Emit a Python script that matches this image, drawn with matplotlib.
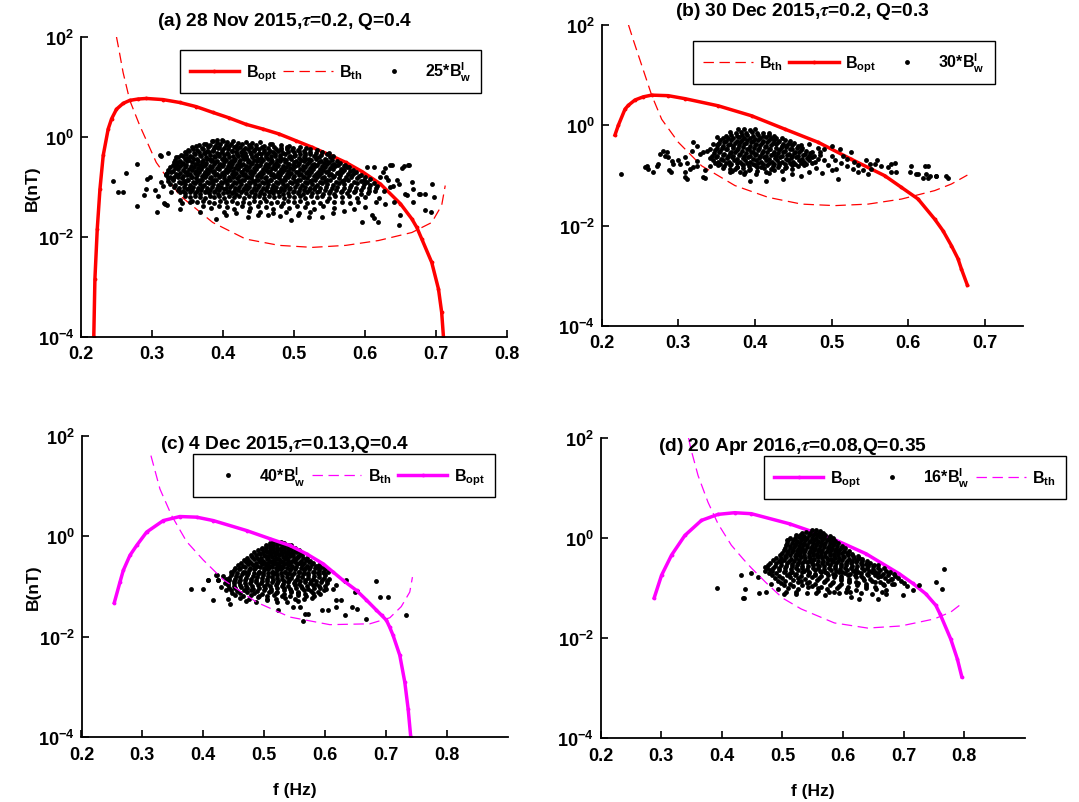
import matplotlib
matplotlib.use("Agg")
import matplotlib.pyplot as plt
from matplotlib.ticker import NullLocator

plt.rcParams['font.family'] = ['Liberation Sans', 'DejaVu Sans']
plt.rcParams['font.weight'] = 'bold'
plt.rcParams['mathtext.fontset'] = 'stix'
plt.rcParams['lines.scale_dashes'] = False

# ---------------- (a) 28 Nov 2015 ----------------
f_opt_a = [0.218, 0.2196, 0.2229, 0.2267, 0.2313, 0.2383, 0.243, 0.25, 0.2593, 0.2687, 0.2804, 0.292,
           0.3154, 0.339, 0.3622, 0.3856, 0.409, 0.432, 0.4557, 0.479, 0.5025, 0.526, 0.5492, 0.573,
           0.596, 0.6217, 0.65, 0.666, 0.673, 0.680, 0.694, 0.7035, 0.708, 0.7105]
b_opt_a = [1e-4, 1.45e-3, 0.0145, 0.091, 0.43, 1.45, 2.3, 3.6, 4.7, 5.4, 5.75, 5.9,
           5.6, 4.9, 4.05, 3.1, 2.4, 1.8, 1.45, 1.15, 0.845, 0.62, 0.444, 0.31,
           0.203, 0.115, 0.046, 0.023, 0.0155, 0.0091, 0.0031, 0.00091, 0.00031, 1e-4]
f_th_a = [0.25, 0.2533, 0.2593, 0.2687, 0.2827, 0.306, 0.339, 0.3856, 0.432, 0.479, 0.526,
          0.573, 0.619, 0.666, 0.694, 0.708, 0.713]
b_th_a = [100, 57, 19.5, 5.4, 1.7, 0.31, 0.068, 0.0195, 0.0091, 0.0068, 0.0062,
          0.0068, 0.0085, 0.0123, 0.0195, 0.043, 0.107]
# wave amplitude samples (f [Hz], 25*B_w [nT])
wave_a = [
    (.376,.74),(.385,.82),(.392,.77),(.398,.86),(.405,.79),(.414,.84),(.421,.76),(.433,.81),(.441,.75),(.452,.78),(.466,.73),
    (.366,.68),(.373,.72),(.381,.70),(.389,.66),(.396,.74),(.404,.69),(.411,.71),(.418,.67),(.427,.73),(.436,.68),(.447,.70),(.458,.66),(.469,.71),(.481,.69),(.493,.67),
    (.356,.62),(.362,.65),(.371,.60),(.379,.64),(.387,.61),(.394,.63),(.401,.60),(.409,.65),(.416,.62),(.424,.64),(.431,.60),(.439,.63),(.446,.61),(.455,.64),(.463,.60),(.472,.63),(.481,.61),(.49,.64),(.499,.60),(.508,.62),(.517,.6),
    (.351,.55),(.358,.58),(.364,.54),(.372,.57),(.378,.53),(.386,.56),(.393,.59),(.399,.54),(.407,.57),(.413,.53),(.42,.58),(.428,.55),(.435,.57),(.443,.54),(.451,.58),(.458,.55),(.466,.53),(.474,.57),(.482,.55),(.49,.58),(.497,.54),(.505,.56),(.514,.53),(.523,.57),(.532,.55),
    (.346,.49),(.352,.52),(.359,.48),(.366,.51),(.373,.47),(.38,.5),(.386,.53),(.392,.48),(.399,.51),(.405,.47),(.412,.52),(.418,.49),(.425,.51),(.431,.47),(.438,.5),(.444,.52),(.451,.48),(.458,.51),(.464,.47),(.471,.5),(.478,.52),(.485,.48),(.492,.51),(.5,.49),(.507,.52),(.515,.47),(.523,.5),(.531,.48),(.54,.51),(.549,.47),
    (.341,.44),(.348,.46),(.354,.42),(.361,.45),(.368,.43),(.374,.47),(.381,.44),(.388,.42),(.394,.46),(.401,.43),(.407,.45),(.414,.42),(.42,.46),(.427,.44),(.433,.42),(.44,.45),(.447,.43),(.453,.46),(.46,.44),(.467,.42),(.473,.45),(.48,.43),(.487,.46),(.494,.42),(.501,.44),(.508,.46),(.515,.43),(.522,.45),(.53,.42),(.538,.44),(.546,.46),(.555,.41),
    (.336,.39),(.343,.41),(.35,.38),(.356,.4),(.363,.37),(.369,.41),(.376,.39),(.382,.37),(.389,.4),(.395,.42),(.402,.38),(.408,.4),(.415,.37),(.421,.41),(.428,.39),(.434,.37),(.441,.4),(.447,.42),(.454,.38),(.46,.4),(.467,.37),(.473,.41),(.48,.39),(.486,.37),(.493,.4),(.5,.42),(.507,.38),(.514,.4),(.521,.37),(.528,.41),(.535,.39),(.543,.37),(.551,.4),
    (.333,.35),(.339,.33),(.346,.36),(.352,.34),(.359,.37),(.365,.33),(.372,.35),(.378,.36),(.385,.34),(.391,.33),(.398,.36),(.404,.35),(.411,.33),(.417,.37),(.424,.34),(.43,.36),(.437,.33),(.443,.35),(.45,.37),(.456,.34),(.463,.36),(.469,.33),(.476,.35),(.482,.37),(.489,.34),(.496,.36),(.503,.33),(.51,.35),(.517,.37),(.524,.34),(.531,.36),(.538,.33),(.545,.35),(.553,.34),(.561,.33),
    (.331,.31),(.337,.32),(.344,.3),(.35,.33),(.357,.31),(.363,.29),(.37,.32),(.376,.3),(.383,.33),(.389,.31),(.396,.29),(.402,.32),(.409,.3),(.415,.33),(.422,.31),(.428,.29),(.435,.32),(.441,.3),(.448,.33),(.454,.31),(.461,.29),(.467,.32),(.474,.3),(.48,.33),(.487,.31),(.493,.29),(.5,.32),(.507,.3),(.514,.33),(.521,.31),(.528,.29),(.535,.32),(.542,.3),(.549,.31),(.557,.29),(.565,.3),(.572,.28),
    (.329,.28),(.335,.27),(.342,.29),(.348,.28),(.355,.26),(.361,.29),(.368,.27),(.374,.28),(.381,.26),(.387,.29),(.394,.27),(.4,.28),(.407,.26),(.413,.29),(.42,.27),(.426,.28),(.433,.26),(.439,.29),(.446,.27),(.452,.28),(.459,.26),(.465,.29),(.472,.27),(.478,.28),(.485,.26),(.491,.29),(.498,.27),(.505,.28),(.512,.26),(.519,.29),(.526,.27),(.533,.28),(.54,.26),(.547,.29),(.554,.27),(.562,.28),(.57,.26),(.578,.25),
    (.326,.25),(.333,.24),(.339,.26),(.346,.25),(.352,.23),(.359,.25),(.365,.24),(.372,.26),(.378,.23),(.385,.25),(.391,.24),(.398,.26),(.404,.23),(.411,.25),(.417,.24),(.424,.26),(.43,.23),(.437,.25),(.443,.24),(.45,.26),(.456,.23),(.463,.25),(.469,.24),(.476,.26),(.482,.23),(.489,.25),(.495,.24),(.502,.26),(.509,.23),(.516,.25),(.523,.24),(.53,.26),(.537,.23),(.544,.25),(.551,.24),(.558,.26),(.566,.23),(.574,.25),(.583,.22),
    (.323,.22),(.329,.21),(.336,.23),(.343,.22),(.349,.2),(.356,.22),(.362,.21),(.369,.23),(.375,.2),(.382,.22),(.388,.21),(.395,.23),(.401,.2),(.408,.22),(.414,.21),(.421,.23),(.427,.2),(.434,.22),(.44,.21),(.447,.23),(.453,.2),(.46,.22),(.466,.21),(.473,.23),(.479,.2),(.486,.22),(.492,.21),(.499,.23),(.506,.2),(.513,.22),(.52,.21),(.527,.23),(.534,.2),(.541,.22),(.548,.21),(.555,.23),(.563,.2),(.571,.22),(.579,.21),(.588,.2),
    (.321,.19),(.327,.2),(.334,.18),(.34,.19),(.347,.2),(.353,.18),(.36,.19),(.366,.2),(.373,.18),(.379,.19),(.386,.2),(.392,.18),(.399,.19),(.405,.2),(.412,.18),(.418,.19),(.425,.2),(.431,.18),(.438,.19),(.444,.2),(.451,.18),(.457,.19),(.464,.2),(.47,.18),(.477,.19),(.483,.2),(.49,.18),(.496,.19),(.503,.2),(.51,.18),(.517,.19),(.524,.2),(.531,.18),(.538,.19),(.545,.2),(.552,.18),(.56,.19),(.568,.2),(.576,.18),(.585,.19),(.594,.17),
    (.32,.17),(.331,.16),(.337,.17),(.344,.165),(.35,.175),(.357,.16),(.363,.17),(.37,.165),(.376,.175),(.383,.16),(.389,.17),(.396,.165),(.402,.175),(.409,.16),(.415,.17),(.422,.165),(.428,.175),(.435,.16),(.441,.17),(.448,.165),(.454,.175),(.461,.16),(.467,.17),(.474,.165),(.48,.175),(.487,.16),(.493,.17),(.5,.165),(.507,.175),(.514,.16),(.521,.17),(.528,.165),(.535,.175),(.542,.16),(.549,.17),(.557,.165),(.565,.175),(.573,.16),(.582,.17),(.591,.165),(.6,.16),
    (.323,.15),(.329,.145),(.336,.155),(.342,.15),(.349,.14),(.355,.155),(.362,.15),(.368,.14),(.375,.155),(.381,.15),(.388,.14),(.394,.155),(.401,.15),(.407,.14),(.414,.155),(.42,.15),(.427,.14),(.433,.155),(.44,.15),(.446,.14),(.453,.155),(.459,.15),(.466,.14),(.472,.155),(.479,.15),(.485,.14),(.492,.155),(.498,.15),(.505,.14),(.512,.155),(.519,.15),(.526,.14),(.533,.155),(.54,.15),(.547,.14),(.555,.155),(.563,.15),(.571,.14),(.58,.155),(.589,.15),(.598,.14),(.607,.145),
    (.322,.13),(.33,.135),(.338,.125),(.345,.13),(.351,.135),(.358,.125),(.364,.13),(.371,.135),(.377,.125),(.384,.13),(.39,.135),(.397,.125),(.403,.13),(.41,.135),(.416,.125),(.423,.13),(.429,.135),(.436,.125),(.442,.13),(.449,.135),(.455,.125),(.462,.13),(.468,.135),(.475,.125),(.481,.13),(.488,.135),(.494,.125),(.501,.13),(.508,.135),(.515,.125),(.522,.13),(.529,.135),(.536,.125),(.543,.13),(.551,.135),(.559,.125),(.567,.13),(.576,.135),(.585,.125),(.594,.13),(.603,.125),(.612,.12),
    (.326,.115),(.333,.11),(.341,.12),(.347,.115),(.354,.11),(.36,.12),(.367,.115),(.373,.11),(.38,.12),(.386,.115),(.393,.11),(.399,.12),(.406,.115),(.412,.11),(.419,.12),(.425,.115),(.432,.11),(.438,.12),(.445,.115),(.451,.11),(.458,.12),(.464,.115),(.471,.11),(.477,.12),(.484,.115),(.49,.11),(.497,.12),(.504,.115),(.511,.11),(.518,.12),(.525,.115),(.532,.11),(.539,.12),(.547,.115),(.555,.11),(.563,.12),(.571,.115),(.58,.11),(.589,.12),(.598,.115),(.607,.11),(.617,.105),
    (.331,.1),(.338,.095),(.345,.1),(.352,.097),(.358,.102),(.365,.095),(.371,.1),(.378,.097),(.384,.102),(.391,.095),(.397,.1),(.404,.097),(.41,.102),(.417,.095),(.423,.1),(.43,.097),(.436,.102),(.443,.095),(.449,.1),(.456,.097),(.462,.102),(.469,.095),(.475,.1),(.482,.097),(.488,.102),(.495,.095),(.502,.1),(.509,.097),(.516,.102),(.523,.095),(.53,.1),(.537,.097),(.545,.102),(.553,.095),(.561,.1),(.57,.097),(.579,.102),(.588,.095),(.597,.1),(.606,.097),(.616,.094),
    (.336,.088),(.343,.085),(.35,.09),(.356,.086),(.363,.083),(.369,.089),(.376,.085),(.382,.088),(.389,.083),(.395,.087),(.402,.09),(.408,.085),(.415,.083),(.421,.088),(.428,.086),(.434,.09),(.441,.084),(.447,.087),(.454,.083),(.46,.089),(.467,.085),(.473,.088),(.48,.083),(.486,.087),(.493,.09),(.5,.085),(.507,.083),(.514,.088),(.521,.086),(.528,.09),(.535,.084),(.543,.087),(.551,.083),(.559,.089),(.568,.085),(.577,.088),(.586,.083),(.595,.087),(.605,.085),(.614,.082),
    (.34,.078),(.347,.075),(.354,.079),(.361,.076),(.367,.073),(.374,.078),(.38,.075),(.387,.079),(.393,.074),(.4,.077),(.406,.08),(.413,.075),(.419,.073),(.426,.078),(.432,.076),(.439,.08),(.445,.074),(.452,.077),(.458,.073),(.465,.079),(.471,.075),(.478,.078),(.484,.073),(.491,.077),(.498,.08),(.505,.075),(.512,.073),(.519,.078),(.526,.076),(.533,.08),(.541,.074),(.549,.077),(.557,.073),(.566,.079),(.575,.075),(.584,.078),(.594,.074),(.604,.076),
    (.346,.065),(.353,.062),(.36,.067),(.367,.063),(.374,.06),(.381,.066),(.388,.062),(.395,.065),(.402,.06),(.409,.067),(.416,.063),(.423,.065),(.43,.06),(.437,.066),(.444,.062),(.451,.065),(.458,.06),(.465,.067),(.472,.063),(.479,.065),(.486,.06),(.493,.066),(.5,.062),(.508,.065),(.516,.06),(.524,.067),(.532,.063),(.54,.065),(.549,.06),(.558,.066),(.568,.062),(.578,.065),(.589,.061),(.6,.064),
    (.356,.052),(.364,.049),(.372,.053),(.38,.05),(.388,.047),(.396,.052),(.404,.049),(.412,.053),(.42,.048),(.428,.051),(.436,.047),(.444,.052),(.452,.049),(.46,.053),(.468,.048),(.476,.051),(.484,.047),(.492,.052),(.5,.049),(.509,.053),(.518,.048),(.527,.051),(.536,.047),(.546,.052),(.556,.049),(.567,.051),(.579,.048),(.59,.05),
    (.372,.041),(.383,.038),(.394,.042),(.405,.039),(.416,.037),(.427,.041),(.438,.038),(.449,.042),(.46,.039),(.471,.037),(.482,.041),(.493,.038),(.504,.042),(.516,.039),(.528,.037),(.541,.041),(.556,.038),
    (.402,.032),(.418,.03),(.436,.033),(.452,.031),(.471,.03),(.489,.032),(.507,.03),(.522,.031),
    (.2445,.13),(.2524,.081),(.2585,.079),(.2627,.19),(.279,.29),(.2795,.041),(.2888,.068),(.292,.091),(.2935,.145),(.2977,.162),
    (.307,.032),(.3038,.089),(.3085,.066),(.3122,.41),(.3225,.48),(.317,.048),(.319,.046),(.321,.044),(.3131,.124),(.3155,.107),
    (.3202,.18),(.3248,.155),(.3272,.078),(.3318,.27),(.3332,.39),(.3389,.054),(.3426,.048),(.311,.43),
    (.39,.023),(.404,.027),(.435,.025),(.463,.027),(.4955,.022),(.521,.025),(.54,.025),(.339,.036),(.353,.049),(.367,.032),
    (.45,.028),(.48,.026),(.505,.028),(.555,.03),(.57,.033),(.585,.036),(.6,.04),(.386,.85),(.392,.87),(.4,.83),
    (.638,.27),(.6544,.26),(.661,.27),(.666,.124),(.6475,.115),(.657,.072),(.6755,.072),(.685,.072),(.694,.115),(.685,.034),
    (.6935,.032),(.6475,.017),(.619,.0195),(.596,.0195),(.61,.027),(.6404,.049),(.668,.049),(.6287,.245),(.6357,.27),(.652,.245),
    (.6614,.27),(.612,.25),(.603,.25),(.668,.093),(.678,.072),(.6965,.063),(.65,.028),(.612,.0245),(.659,.069),(.64,.107),
    (.633,.135),(.6357,.1),(.6264,.085),(.6217,.155),(.625,.2),(.63,.16),(.62,.06),(.628,.045),(.615,.05),(.645,.14),
]

# ---------------- (b) 30 Dec 2015 ----------------
f_opt_b = [0.2173, 0.2217, 0.2304, 0.2347, 0.2434, 0.2543, 0.2652, 0.2869, 0.3087, 0.3521, 0.3956,
           0.4391, 0.4825, 0.5261, 0.5695, 0.5913, 0.613, 0.6347, 0.6456, 0.6565, 0.6651, 0.6695, 0.6774]
b_opt_b = [0.64, 1.0, 2.1, 2.5, 3.2, 3.7, 4.0, 3.9, 3.4, 2.45, 1.55,
           0.84, 0.46, 0.21, 0.099, 0.058, 0.034, 0.0135, 0.0079, 0.004, 0.0022, 0.00138, 0.00065]
f_th_b = [0.235, 0.2413, 0.2522, 0.2652, 0.2783, 0.3, 0.3304, 0.3739, 0.4173, 0.4609,
          0.5043, 0.5478, 0.5913, 0.6347, 0.6565, 0.6774]
b_th_b = [100, 50, 15.8, 4.0, 1.32, 0.46, 0.156, 0.063, 0.0367, 0.0269,
          0.0251, 0.0269, 0.0339, 0.050, 0.0676, 0.102]
wave_b = [
    (.378,.83),(.386,.85),(.393,.81),(.4,.84),
    (.368,.72),(.375,.69),(.382,.73),(.389,.7),(.396,.72),(.403,.69),(.41,.71),(.418,.7),
    (.362,.62),(.369,.64),(.376,.61),(.383,.63),(.39,.65),(.397,.62),(.404,.64),(.411,.61),(.418,.63),(.425,.62),
    (.358,.57),(.365,.55),(.372,.56),(.379,.58),(.386,.55),(.393,.57),(.4,.54),(.407,.56),(.414,.58),(.421,.55),(.428,.57),(.436,.55),
    (.355,.5),(.362,.49),(.369,.51),(.376,.48),(.383,.5),(.39,.52),(.397,.49),(.404,.51),(.411,.48),(.418,.5),(.425,.52),(.432,.49),(.439,.5),(.446,.48),
    (.353,.44),(.36,.46),(.367,.43),(.374,.45),(.381,.47),(.388,.44),(.395,.46),(.402,.43),(.409,.45),(.416,.47),(.423,.44),(.43,.46),(.437,.43),(.444,.45),(.451,.44),
    (.351,.4),(.358,.38),(.365,.41),(.372,.39),(.379,.4),(.386,.42),(.393,.38),(.4,.4),(.407,.41),(.414,.39),(.421,.4),(.428,.42),(.435,.38),(.442,.4),(.449,.41),(.456,.39),
    (.35,.35),(.357,.36),(.364,.34),(.371,.36),(.378,.35),(.385,.37),(.392,.34),(.399,.36),(.406,.35),(.413,.37),(.42,.34),(.427,.36),(.434,.35),(.441,.37),(.448,.34),(.455,.36),(.462,.35),
    (.348,.32),(.355,.31),(.362,.33),(.369,.3),(.376,.32),(.383,.31),(.39,.33),(.397,.3),(.404,.32),(.411,.31),(.418,.33),(.425,.3),(.432,.32),(.439,.31),(.446,.33),(.453,.3),(.46,.32),(.467,.31),
    (.346,.28),(.353,.29),(.36,.27),(.367,.28),(.374,.29),(.381,.27),(.388,.28),(.395,.29),(.402,.27),(.409,.28),(.416,.29),(.423,.27),(.43,.28),(.437,.29),(.444,.27),(.451,.28),(.458,.29),(.465,.27),(.472,.28),
    (.344,.25),(.351,.24),(.358,.26),(.365,.25),(.372,.24),(.379,.26),(.386,.25),(.393,.24),(.4,.26),(.407,.25),(.414,.24),(.421,.26),(.428,.25),(.435,.24),(.442,.26),(.449,.25),(.456,.24),(.463,.26),(.47,.25),(.477,.24),
    (.342,.22),(.349,.23),(.356,.21),(.363,.22),(.37,.23),(.377,.21),(.384,.22),(.391,.23),(.398,.21),(.405,.22),(.412,.23),(.419,.21),(.426,.22),(.433,.23),(.44,.21),(.447,.22),(.454,.23),(.461,.21),(.468,.22),(.475,.23),(.482,.21),
    (.345,.2),(.352,.19),(.359,.2),(.366,.19),(.373,.2),(.38,.19),(.387,.2),(.394,.19),(.401,.2),(.408,.19),(.415,.2),(.422,.19),(.429,.2),(.436,.19),(.443,.2),(.45,.19),(.457,.2),(.464,.19),(.471,.2),(.478,.19),
    (.348,.18),(.355,.17),(.362,.18),(.369,.17),(.376,.18),(.383,.17),(.39,.18),(.397,.17),(.404,.18),(.411,.17),(.418,.18),(.425,.17),(.432,.18),(.439,.17),(.446,.18),(.453,.17),(.46,.18),(.467,.17),(.474,.18),
    (.352,.16),(.36,.155),(.368,.16),(.376,.15),(.384,.16),(.392,.155),(.4,.16),(.408,.15),(.416,.16),(.424,.155),(.432,.16),(.44,.15),(.448,.16),(.456,.155),(.464,.16),
    (.358,.14),(.367,.135),(.376,.145),(.385,.14),(.394,.135),(.403,.145),(.412,.14),(.421,.135),(.43,.145),(.439,.14),(.448,.135),
    (.37,.125),(.381,.12),(.392,.13),(.403,.125),(.414,.12),(.425,.13),(.436,.125),
    (.386,.108),(.402,.105),(.418,.11),
    (.2252,.107),(.2565,.145),(.2608,.135),(.2665,.12),(.2738,.17),(.276,.27),(.2804,.31),(.2825,.245),(.2847,.29),(.2869,.23),
    (.2912,.195),(.2934,.17),(.2882,.126),(.2904,.115),(.2999,.2),(.302,.17),(.3086,.23),(.3108,.18),(.3086,.115),(.3108,.087),
    (.3173,.31),(.3195,.46),(.3247,.39),(.3152,.135),(.3195,.145),(.3239,.155),(.3247,.195),(.3282,.27),(.3326,.29),(.3369,.31),
    (.3412,.34),(.3347,.126),(.3347,.091),(.3412,.155),(.3456,.43),(.35,.58),(.3521,.43),(.3673,.115),(.3738,.135),(.3869,.12),
    (.3934,.079),(.4151,.079),(.4369,.085),(.4478,.107),(.2717,.156),(.2587,.153),(.3087,.092),(.3325,.092),
    (.4826,.36),(.4848,.29),(.5,.245),(.5109,.34),(.5261,.29),(.513,.18),(.5196,.155),(.5065,.135),(.5087,.085),(.5283,.135),
    (.5348,.115),(.5413,.126),(.5478,.107),(.5522,.135),(.5565,.17),(.5652,.155),(.5739,.145),(.5783,.17),(.5826,.18),(.5848,.115),
    (.5783,.115),(.6043,.155),(.6022,.115),(.6109,.107),(.6217,.155),(.6261,.155),(.623,.107),(.6261,.091),(.6196,.091),(.637,.1),
    (.6522,.091),(.6499,.1),(.6369,.1),(.6282,.1),(.613,.107),
    (.475,.3),(.49,.2),(.495,.16),(.48,.14),(.5,.13),(.47,.12),(.46,.1),(.488,.11),(.505,.2),(.515,.25),
    (.52,.21),(.53,.19),(.535,.16),(.545,.2),(.55,.17),(.56,.2),(.485,.26),(.49,.33),(.46,.4),(.47,.43),(.5,.38),
]

# ---------------- (c) 4 Dec 2015 ----------------
f_opt_c = [0.2539, 0.2632, 0.2686, 0.2796, 0.2906, 0.307, 0.3344, 0.3617, 0.3891, 0.4164, 0.4712, 0.5096,
           0.5424, 0.5698, 0.5971, 0.6135, 0.63, 0.6519, 0.6683, 0.6847, 0.693, 0.7011, 0.7065, 0.712,
           0.723, 0.7312, 0.7367, 0.741]
b_opt_c = [0.048, 0.123, 0.21, 0.42, 0.66, 1.22, 2.07, 2.49, 2.42, 2.07, 1.31, 0.9,
           0.66, 0.45, 0.285, 0.195, 0.133, 0.084, 0.054, 0.034, 0.027, 0.0214, 0.0155, 0.0107,
           0.0043, 0.00126, 0.00037, 0.000102]
f_th_c = [0.3141, 0.3289, 0.3481, 0.3727, 0.4, 0.4329, 0.4877, 0.5424, 0.608, 0.6738, 0.7066,
          0.7254, 0.7394, 0.7438]
b_th_c = [40.7, 8.8, 2.6, 0.79, 0.34, 0.138, 0.049, 0.0248, 0.0175, 0.0182, 0.024,
          0.04, 0.078, 0.155]
wave_c = [
    (.509,.75),(.515,.78),(.521,.74),(.527,.77),(.533,.75),
    (.503,.67),(.509,.69),(.515,.66),(.521,.68),(.527,.7),(.533,.67),(.539,.69),(.545,.66),
    (.497,.6),(.503,.61),(.509,.59),(.515,.62),(.521,.6),(.527,.58),(.533,.61),(.539,.59),(.545,.62),(.551,.6),
    (.49,.53),(.497,.55),(.503,.54),(.509,.52),(.515,.55),(.521,.53),(.527,.54),(.533,.56),(.539,.53),(.545,.55),(.551,.52),(.557,.54),
    (.484,.48),(.491,.47),(.498,.49),(.504,.48),(.51,.46),(.516,.49),(.522,.47),(.528,.48),(.534,.5),(.54,.47),(.546,.49),(.552,.48),(.559,.46),
    (.478,.43),(.486,.42),(.493,.44),(.5,.43),(.506,.41),(.512,.44),(.518,.42),(.524,.43),(.53,.45),(.536,.42),(.542,.44),(.548,.43),(.555,.41),(.563,.43),
    (.472,.38),(.48,.39),(.488,.37),(.495,.38),(.501,.4),(.507,.37),(.513,.39),(.519,.38),(.525,.36),(.531,.39),(.537,.38),(.543,.4),(.549,.37),(.556,.39),(.564,.38),(.571,.37),
    (.467,.34),(.475,.33),(.483,.35),(.491,.34),(.498,.32),(.504,.35),(.51,.33),(.516,.34),(.522,.36),(.528,.33),(.534,.35),(.54,.34),(.546,.32),(.553,.35),(.561,.33),(.569,.34),(.576,.33),
    (.462,.3),(.47,.31),(.478,.29),(.486,.3),(.494,.31),(.501,.29),(.507,.3),(.513,.31),(.519,.29),(.525,.3),(.531,.31),(.537,.29),(.543,.3),(.55,.31),(.558,.29),(.566,.3),(.574,.31),(.581,.29),
    (.457,.27),(.465,.26),(.473,.28),(.481,.27),(.489,.26),(.496,.28),(.503,.27),(.509,.26),(.515,.28),(.521,.27),(.527,.26),(.533,.28),(.539,.27),(.546,.26),(.554,.28),(.562,.27),(.57,.26),(.578,.28),(.586,.26),
    (.453,.24),(.461,.23),(.469,.25),(.477,.24),(.485,.23),(.493,.25),(.5,.24),(.507,.23),(.513,.25),(.519,.24),(.525,.23),(.531,.25),(.537,.24),(.544,.23),(.552,.25),(.56,.24),(.568,.23),(.576,.25),(.584,.24),(.591,.23),
    (.45,.21),(.459,.22),(.468,.2),(.476,.21),(.484,.22),(.492,.2),(.5,.21),(.507,.22),(.514,.2),(.521,.21),(.528,.22),(.535,.2),(.542,.21),(.55,.22),(.558,.2),(.566,.21),(.574,.22),(.582,.2),(.59,.21),(.597,.2),
    (.447,.19),(.456,.185),(.465,.195),(.474,.19),(.483,.185),(.491,.195),(.499,.19),(.506,.185),(.513,.195),(.52,.19),(.527,.185),(.534,.195),(.541,.19),(.549,.185),(.557,.195),(.565,.19),(.573,.185),(.581,.195),(.589,.19),(.598,.185),
    (.445,.17),(.454,.165),(.463,.175),(.472,.17),(.481,.165),(.49,.175),(.498,.17),(.506,.165),(.514,.175),(.522,.17),(.53,.165),(.538,.175),(.546,.17),(.555,.165),(.564,.175),(.573,.17),(.582,.165),(.591,.175),(.6,.17),
    (.443,.15),(.452,.145),(.461,.155),(.47,.15),(.479,.145),(.488,.155),(.497,.15),(.505,.145),(.513,.155),(.521,.15),(.529,.145),(.537,.155),(.545,.15),(.554,.145),(.563,.155),(.572,.15),(.581,.145),(.59,.155),(.599,.15),(.607,.145),
    (.442,.135),(.451,.13),(.46,.138),(.469,.133),(.478,.128),(.487,.136),(.496,.132),(.505,.128),(.514,.136),(.523,.131),(.532,.128),(.541,.135),(.55,.131),(.559,.128),(.568,.136),(.577,.132),(.586,.128),(.595,.135),(.604,.13),
    (.441,.12),(.45,.118),(.459,.123),(.468,.119),(.477,.116),(.486,.122),(.495,.118),(.504,.115),(.513,.122),(.522,.118),(.531,.115),(.54,.121),(.549,.118),(.558,.115),(.567,.122),(.576,.118),(.585,.115),(.594,.121),(.603,.117),
    (.44,.107),(.45,.104),(.46,.109),(.47,.105),(.48,.102),(.49,.108),(.5,.104),(.51,.101),(.52,.108),(.53,.104),(.54,.101),(.55,.107),(.56,.104),(.57,.101),(.58,.108),(.59,.104),(.6,.101),
    (.442,.095),(.452,.093),(.462,.097),(.472,.094),(.482,.091),(.492,.096),(.502,.093),(.512,.09),(.522,.096),(.532,.093),(.542,.09),(.552,.095),(.562,.092),(.572,.09),(.582,.096),(.592,.093),(.602,.09),
    (.445,.085),(.456,.082),(.467,.087),(.478,.084),(.489,.081),(.5,.086),(.511,.083),(.522,.08),(.533,.086),(.544,.083),(.555,.08),(.566,.085),(.577,.082),(.588,.08),(.598,.084),
    (.448,.076),(.46,.074),(.472,.078),(.484,.075),(.496,.072),(.508,.077),(.52,.074),(.532,.072),(.544,.077),(.556,.074),(.568,.072),(.58,.076),(.592,.073),
    (.452,.068),(.465,.066),(.478,.069),(.491,.066),(.504,.064),(.517,.068),(.53,.066),(.543,.064),(.556,.068),(.569,.066),(.582,.064),
    (.46,.06),(.475,.058),(.49,.061),(.505,.058),(.52,.056),(.535,.06),(.55,.058),(.565,.056),(.578,.06),
    (.47,.052),(.487,.05),(.504,.053),(.521,.05),(.538,.049),(.555,.052),
    (.3801,.091),(.4083,.133),(.4154,.054),(.422,.167),(.4247,.133),(.4411,.058),(.4439,.046),(.474,.31),(.5232,.034),(.5479,.039),
    (.5588,.039),(.5671,.029),(.5725,.028),(.5643,.021),(.5944,.034),(.6053,.034),(.619,.039),(.6327,.027),(.6437,.039),(.6519,.036),
    (.619,.054),(.6272,.054),(.6135,.091),(.619,.106),(.6327,.127),(.6491,.078),(.6683,.023),(.6847,.129),(.6902,.062),(.7039,.062),
    (.734,.027),(.4,.091),(.4214,.167),(.4077,.133),(.4241,.133),(.634,.135),(.653,.081),(.43,.1),(.435,.12),(.437,.085),
    (.432,.16),(.438,.14),(.445,.2),(.6,.22),(.595,.25),(.605,.2),(.59,.27),
]

# ---------------- (d) 20 Apr 2016 ----------------
f_opt_d = [0.2885, 0.3006, 0.3171, 0.339, 0.3664, 0.3938, 0.4212, 0.4487, 0.5117, 0.583, 0.6378,
           0.6927, 0.7146, 0.7365, 0.7529, 0.76, 0.7776, 0.7885, 0.7957]
b_opt_d = [0.063, 0.178, 0.45, 1.11, 2.22, 2.93, 3.16, 3.02, 1.9, 0.955, 0.48,
           0.191, 0.124, 0.076, 0.045, 0.030, 0.0095, 0.0038, 0.0017]
f_th_d = [0.345, 0.3489, 0.3609, 0.3773, 0.3938, 0.4158, 0.435, 0.4487, 0.4733, 0.5, 0.5309,
          0.5857, 0.6405, 0.6954, 0.7502, 0.7776, 0.7941]
b_th_d = [100, 60, 17.4, 5.1, 1.9, 0.71, 0.38, 0.25, 0.126, 0.063, 0.038,
          0.02, 0.0158, 0.0174, 0.024, 0.033, 0.047]
wave_d = [
    (.548,1.4),(.555,1.45),(.562,1.38),
    (.532,1.25),(.539,1.28),(.546,1.23),(.553,1.27),(.56,1.24),(.567,1.26),
    (.522,1.12),(.529,1.14),(.536,1.1),(.543,1.13),(.55,1.11),(.557,1.14),(.564,1.1),(.571,1.12),(.578,1.09),
    (.513,1.0),(.52,.98),(.527,1.02),(.534,.99),(.541,1.01),(.548,.97),(.555,1.0),(.562,1.02),(.569,.98),(.576,1.0),(.583,.97),
    (.51,.89),(.517,.9),(.524,.87),(.531,.89),(.538,.91),(.545,.88),(.552,.9),(.559,.87),(.566,.89),(.573,.91),(.58,.88),(.587,.86),
    (.508,.79),(.515,.78),(.522,.8),(.529,.77),(.536,.79),(.543,.81),(.55,.78),(.557,.8),(.564,.77),(.571,.79),(.578,.8),(.585,.78),(.592,.77),
    (.506,.71),(.513,.7),(.52,.72),(.527,.69),(.534,.71),(.541,.72),(.548,.7),(.555,.71),(.562,.69),(.569,.72),(.576,.7),(.583,.71),(.59,.69),(.598,.7),
    (.504,.63),(.512,.62),(.519,.64),(.526,.61),(.533,.63),(.54,.64),(.547,.62),(.554,.63),(.561,.61),(.568,.64),(.575,.62),(.582,.63),(.589,.61),(.596,.63),(.603,.62),
    (.502,.56),(.51,.55),(.517,.57),(.524,.54),(.531,.56),(.538,.57),(.545,.55),(.552,.56),(.559,.54),(.566,.57),(.573,.55),(.58,.56),(.587,.54),(.594,.56),(.601,.55),(.609,.54),
    (.5,.5),(.508,.49),(.515,.51),(.522,.48),(.529,.5),(.536,.51),(.543,.49),(.55,.5),(.557,.48),(.564,.51),(.571,.49),(.578,.5),(.585,.48),(.592,.5),(.599,.49),(.607,.5),(.615,.48),
    (.496,.45),(.504,.44),(.512,.46),(.52,.43),(.528,.45),(.536,.46),(.543,.44),(.55,.45),(.557,.43),(.564,.46),(.571,.44),(.578,.45),(.585,.43),(.592,.45),(.6,.44),(.608,.46),(.616,.43),(.624,.44),
    (.49,.4),(.498,.39),(.506,.41),(.514,.38),(.522,.4),(.53,.41),(.538,.39),(.545,.4),(.552,.38),(.559,.41),(.566,.39),(.573,.4),(.58,.38),(.587,.4),(.594,.39),(.602,.41),(.61,.38),(.618,.4),(.626,.39),(.632,.38),
    (.485,.355),(.494,.345),(.503,.36),(.511,.35),(.519,.34),(.527,.36),(.535,.35),(.543,.34),(.551,.36),(.559,.35),(.567,.34),(.575,.36),(.583,.35),(.591,.34),(.599,.36),(.607,.35),(.615,.34),(.623,.36),(.631,.35),(.639,.34),
    (.48,.32),(.489,.31),(.498,.325),(.507,.315),(.516,.305),(.525,.32),(.533,.31),(.541,.325),(.549,.315),(.557,.305),(.565,.32),(.573,.31),(.581,.325),(.589,.315),(.597,.305),(.605,.32),(.613,.31),(.621,.325),(.629,.315),(.637,.305),(.645,.31),
    (.477,.28),(.487,.27),(.497,.285),(.506,.275),(.515,.27),(.524,.285),(.533,.275),(.542,.27),(.551,.285),(.56,.275),(.569,.27),(.578,.285),(.587,.275),(.596,.27),(.605,.285),(.614,.275),(.623,.27),(.632,.285),(.641,.275),(.65,.27),(.658,.28),
    (.474,.25),(.484,.245),(.494,.255),(.504,.25),(.514,.24),(.523,.255),(.532,.25),(.541,.24),(.55,.255),(.559,.25),(.568,.24),(.577,.255),(.586,.25),(.595,.24),(.604,.255),(.613,.25),(.622,.24),(.631,.255),(.64,.25),(.649,.24),(.658,.255),(.667,.245),
    (.472,.22),(.483,.215),(.494,.225),(.505,.22),(.515,.21),(.525,.225),(.535,.22),(.544,.21),(.553,.225),(.562,.22),(.571,.21),(.58,.225),(.589,.22),(.598,.21),(.607,.225),(.616,.22),(.625,.21),(.634,.225),(.643,.22),(.652,.21),(.661,.225),(.67,.22),(.678,.21),
    (.478,.2),(.49,.195),(.502,.205),(.513,.2),(.523,.19),(.533,.205),(.543,.2),(.553,.19),(.563,.205),(.573,.2),(.583,.19),(.593,.205),(.603,.2),(.612,.19),(.621,.205),(.63,.2),(.639,.19),(.648,.205),(.657,.2),(.666,.19),(.675,.2),(.684,.19),
    (.482,.18),(.495,.175),(.508,.185),(.52,.18),(.531,.17),(.542,.185),(.553,.18),(.564,.17),(.575,.185),(.586,.18),(.597,.17),(.608,.185),(.619,.18),(.63,.17),(.641,.185),(.652,.18),(.663,.17),(.674,.18),(.685,.17),
    (.487,.16),(.5,.155),(.513,.165),(.525,.16),(.537,.15),(.549,.165),(.561,.16),(.573,.15),(.585,.165),(.597,.16),(.609,.15),(.621,.165),(.633,.16),(.645,.15),(.657,.165),(.669,.16),(.681,.15),
    (.492,.14),(.505,.135),(.518,.145),(.531,.14),(.544,.132),(.557,.145),(.57,.14),(.583,.132),(.596,.145),(.609,.14),(.622,.132),(.635,.145),(.648,.14),(.661,.132),(.674,.14),
    (.498,.126),(.512,.12),(.526,.13),(.54,.125),(.554,.118),(.568,.13),(.582,.125),(.596,.118),(.61,.13),(.624,.125),(.638,.118),(.652,.13),(.666,.122),(.68,.118),
    (.503,.112),(.518,.108),(.533,.115),(.548,.11),(.563,.105),(.578,.115),(.593,.11),(.608,.105),(.623,.115),(.638,.11),(.653,.105),(.668,.112),
    (.51,.1),(.526,.096),(.542,.102),(.558,.098),(.574,.094),(.59,.1),(.606,.096),(.622,.092),(.638,.1),(.654,.096),(.67,.092),
    (.522,.083),(.54,.08),(.558,.085),(.576,.081),(.594,.078),(.612,.084),(.63,.08),(.648,.077),(.664,.082),
    (.3922,.099),(.4322,.177),(.4377,.093),(.436,.0625),(.4487,.2),(.4596,.164),(.4613,.0785),(.4706,.26),(.4733,.082),(.4788,.223),
    (.4816,.12),(.5062,.082),(.5227,.074),(.5556,.079),(.571,.073),(.5857,.082),(.605,.082),(.6131,.065),(.6269,.061),(.657,.061),
    (.6707,.076),(.6981,.071),(.7146,.092),(.7245,.112),(.754,.134),(.7628,.094),(.7667,.233),(.5073,.885),(.6515,.28),(.6515,.206),
    (.679,.152),(.6844,.121),(.4349,.063),(.4925,.095),(.5034,.076),(.695,.14),(.7,.125),(.69,.16),(.705,.11),
]

titles = ['(a) 28 Nov 2015,$\\tau$=0.2, Q=0.4',
          '(b) 30 Dec 2015,$\\tau$=0.2, Q=0.3',
          '(c) 4 Dec 2015,$\\tau$=0.13,Q=0.4',
          '(d) 20 Apr 2016,$\\tau$=0.08,Q=0.35']
wave_labels = ['25*B$^{\\mathdefault{I}}_{\\mathdefault{w}}$',
               '30*B$^{\\mathdefault{I}}_{\\mathdefault{w}}$',
               '40*B$^{\\mathdefault{I}}_{\\mathdefault{w}}$',
               '16*B$^{\\mathdefault{I}}_{\\mathdefault{w}}$']

W, H = 1079, 803
fig = plt.figure(figsize=(W / 100, H / 100), dpi=100)


def px_rect(x0, y0, x1, y1):
    return [x0 / W, 1 - y1 / H, (x1 - x0) / W, (y1 - y0) / H]


def draw_panel(rect, xlim, xticks, curves, wave, color, wave_label, order, leg_xy, title, title_xy,
               ylabel=False, xlabel=False):
    ax = fig.add_axes(rect)
    f_opt, b_opt, f_th, b_th = curves
    fw, bw = zip(*wave)
    handles = {}
    for key in order:
        if key == 'opt':
            handles[key], = ax.plot(f_opt, b_opt, color=color, lw=2.5, marker='.', ms=3.5,
                                    label=r'B$_{\mathdefault{opt}}$')
        elif key == 'th':
            handles[key], = ax.plot(f_th, b_th, color=color, lw=0.9, dashes=(7.5, 4),
                                    label=r'B$_{\mathdefault{th}}$')
        else:
            handles[key], = ax.plot(fw, bw, ls='none', marker='o', ms=3.5, mew=0, color='k',
                                    label=wave_label)
    ax.set_yscale('log')
    ax.set_ylim(1e-4, 1e2)
    ax.set_yticks([1e-4, 1e-2, 1e0, 1e2])
    ax.yaxis.set_minor_locator(NullLocator())
    ax.set_xlim(*xlim)
    ax.set_xticks(xticks)
    ax.set_xticklabels(['%.1f' % t for t in xticks])
    for s in ('top', 'right'):
        ax.spines[s].set_visible(False)
    for s in ('left', 'bottom'):
        ax.spines[s].set_linewidth(1.3)
    ax.tick_params(direction='in', length=5, width=1.2, labelsize=13)
    ax.tick_params(axis='x', pad=6)
    ax.tick_params(axis='y', pad=5)

    leg = ax.legend([handles[k] for k in order], [handles[k].get_label() for k in order],
                    loc='upper left', bbox_to_anchor=leg_xy, ncol=3, numpoints=1,
                    fancybox=False, framealpha=1, edgecolor='k', borderaxespad=0,
                    borderpad=0.62, handlelength=3.1, handletextpad=0.4, columnspacing=0.4,
                    prop={'size': 11.5, 'weight': 'bold'})
    leg.get_frame().set_linewidth(1.0)

    fig.text(title_xy[0] / W, 1 - title_xy[1] / H, title, ha='center', va='center',
             fontsize=13.8, fontweight='bold')
    if ylabel:
        ax.set_ylabel('B(nT)', fontsize=12.5, fontweight='bold')
        ax.yaxis.set_label_coords(-0.096, 0.5)
    if xlabel:
        ax.set_xlabel('f (Hz)', fontsize=12.5, fontweight='bold')
        ax.xaxis.set_label_coords(0.5, -0.148)
    return ax


red, magenta = '#FF0000', '#FF00FF'

draw_panel(px_rect(81, 38, 507, 338), (0.2, 0.8), [0.2, 0.3, 0.4, 0.5, 0.6, 0.7, 0.8],
           (f_opt_a, b_opt_a, f_th_a, b_th_a), wave_a, red, wave_labels[0],
           ['opt', 'th', 'wave'], (0.232, 0.957), titles[0], (285, 22), ylabel=True)
draw_panel(px_rect(601.7, 26, 1023, 327), (0.2, 0.75), [0.2, 0.3, 0.4, 0.5, 0.6, 0.7],
           (f_opt_b, b_opt_b, f_th_b, b_th_b), wave_b, red, wave_labels[1],
           ['th', 'opt', 'wave'], (0.217, 0.947), titles[1], (802, 12))
draw_panel(px_rect(81.5, 437, 507.5, 738.3), (0.2, 0.9), [0.2, 0.3, 0.4, 0.5, 0.6, 0.7, 0.8],
           (f_opt_c, b_opt_c, f_th_c, b_th_c), wave_c, magenta, wave_labels[2],
           ['wave', 'th', 'opt'], (0.262, 0.940), titles[2], (285, 445), ylabel=True, xlabel=True)
draw_panel(px_rect(600.5, 438.5, 1025, 739.3), (0.2, 0.9), [0.2, 0.3, 0.4, 0.5, 0.6, 0.7, 0.8],
           (f_opt_d, b_opt_d, f_th_d, b_th_d), wave_d, magenta, wave_labels[3],
           ['opt', 'wave', 'th'], (0.385, 0.940), titles[3], (792, 447), xlabel=True)

fig.savefig('out.png', dpi=100)
